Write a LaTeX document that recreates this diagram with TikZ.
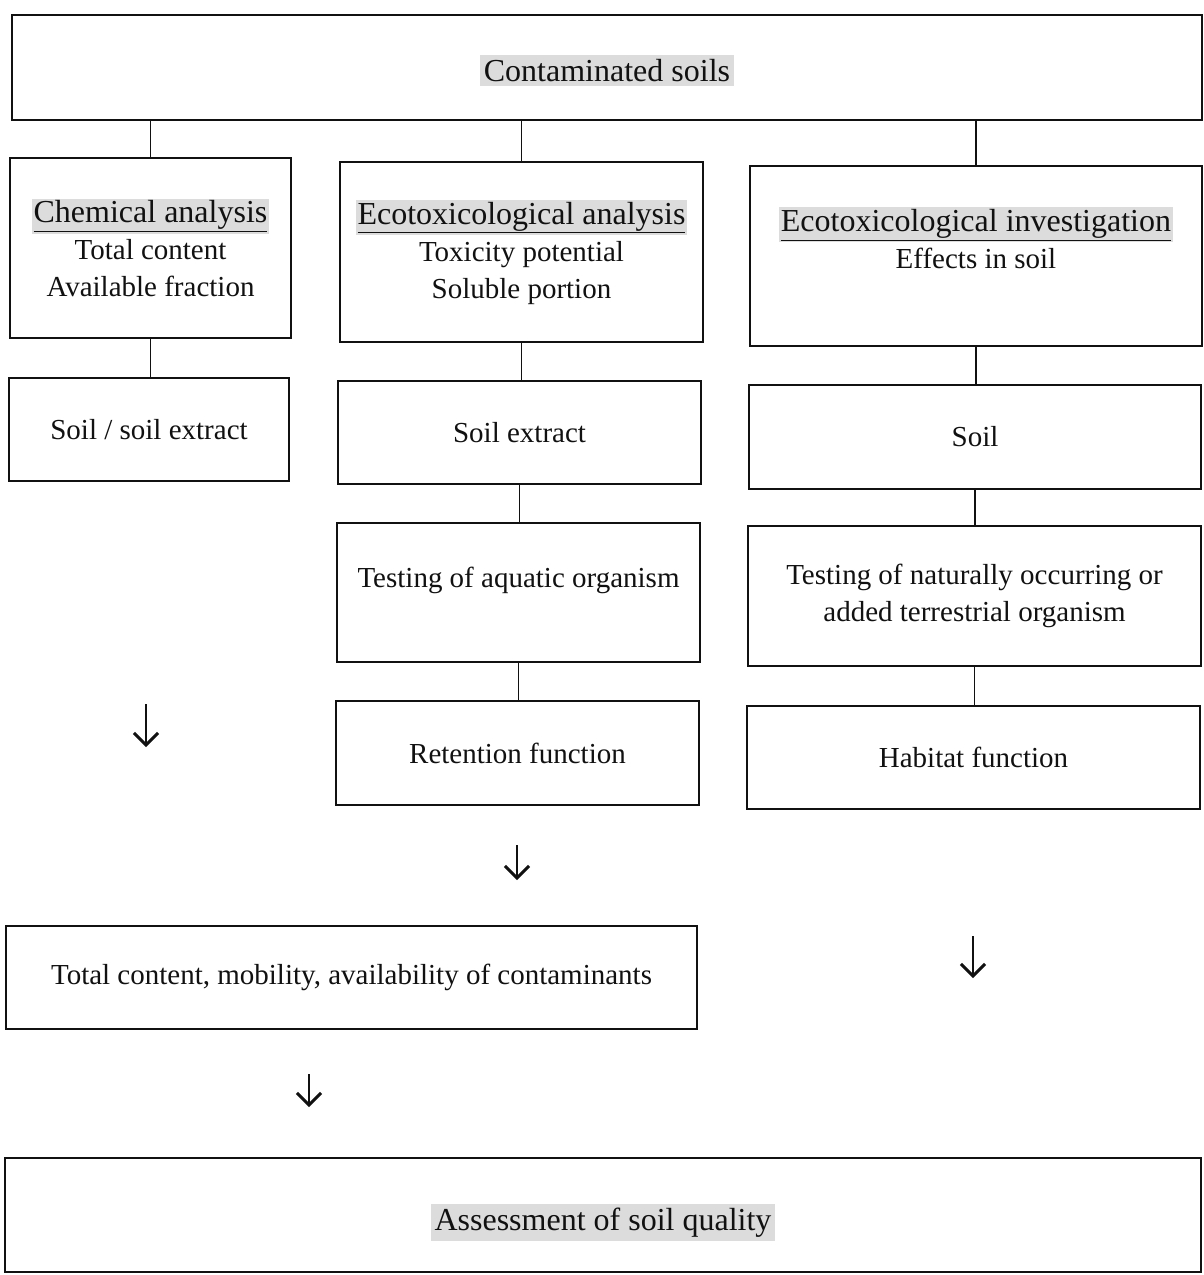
\documentclass[tikz,border=0pt]{standalone}
\usepackage{fontspec}
\setmainfont{Liberation Serif}
\usetikzlibrary{arrows.meta}
\definecolor{Ink}{HTML}{111111}
\definecolor{Shade}{HTML}{DCDCDC}
\newcommand{\shadehead}[1]{{\fontsize{32}{37}\selectfont\setlength{\fboxsep}{2pt}\colorbox{Shade}{\underline{#1}}}}
\newcommand{\shadetitle}[1]{{\fontsize{32}{37}\selectfont\setlength{\fboxsep}{4pt}\colorbox{Shade}{#1}}}

\begin{document}
\begin{tikzpicture}[x=1pt,y=-1pt,font=\fontsize{29}{37}\selectfont,every node/.style={text=Ink},
  box/.style={draw=Ink,line width=1.6pt,inner sep=0pt,align=center},
  link/.style={draw=Ink,line width=1.1pt},
  down/.style={draw=Ink,line width=2pt,-{Straight Barb[length=12pt,width=24pt,line width=3pt]}}]
\useasboundingbox[fill=white] (0,0) rectangle (1203,1275);
% top and first row
\node[box,minimum width=1190pt,minimum height=105pt,text height=32pt] (top) at (607,67.5){\shadetitle{Contaminated soils}};
\node[box,minimum width=281pt,minimum height=180pt] (chem) at (150.5,248){\shadehead{Chemical analysis}\\Total content\\Available fraction};
\node[box,minimum width=363pt,minimum height=180pt] (ecoa) at (521.5,252){\shadehead{Ecotoxicological analysis}\\Toxicity potential\\Soluble portion};
\node[box,minimum width=452pt,minimum height=180pt] (ecoi) at (976,256){\shadehead{Ecotoxicological investigation}\\Effects in soil\\[-12pt]\strut};
% media
\node[box,minimum width=280pt,minimum height=103pt] (soilx) at (149,429.5){Soil / soil extract};
\node[box,minimum width=363pt,minimum height=103pt] (extr) at (519.5,432.5){Soil extract};
\node[box,minimum width=452pt,minimum height=104pt] (soil) at (975,437){Soil};
% tests and functions
\node[box,minimum width=363pt,minimum height=139pt] (aqua) at (518.5,592.5){Testing of aquatic organism\\[-18pt]\strut};
\node[box,minimum width=453pt,minimum height=140pt] (terr) at (974.5,596){Testing of naturally occurring or\\added terrestrial organism};
\node[box,minimum width=363pt,minimum height=104pt] (ret) at (517.5,753){Retention function};
\node[box,minimum width=453pt,minimum height=103pt] (hab) at (973.5,757.5){Habitat function};
% results
\node[box,minimum width=691pt,minimum height=103pt] (cont) at (351.5,977.5){Total content, mobility, availability of contaminants};
\node[box,minimum width=1196pt,minimum height=114pt,text height=42pt] (assess) at (603,1215){\shadetitle{Assessment of soil quality}};
% connectors
\draw[link] (chem.north |- top.south) -- (chem.north);
\draw[link] (ecoa.north |- top.south) -- (ecoa.north);
\draw[link] (ecoi.north |- top.south) -- (ecoi.north);
\draw[link] (chem.south) -- (chem.south |- soilx.north);
\draw[link] (ecoa.south) -- (ecoa.south |- extr.north);
\draw[link] (ecoi.south) -- (ecoi.south |- soil.north);
\draw[link] (extr.south) -- (extr.south |- aqua.north);
\draw[link] (soil.south) -- (soil.south |- terr.north);
\draw[link] (aqua.south) -- (aqua.south |- ret.north);
\draw[link] (terr.south) -- (terr.south |- hab.north);
% free arrows
\coordinate (chemtail) at (146,704);\coordinate (chemhead) at (146,747);
\coordinate (rettail) at (517,845);\coordinate (rethead) at (517,880);
\coordinate (habtail) at (973,936);\coordinate (habhead) at (973,978);
\coordinate (conttail) at (309,1074);\coordinate (conthead) at (309,1107);
\foreach \a/\b in {chemtail/chemhead,rettail/rethead,habtail/habhead,conttail/conthead}{\draw[down] (\a) -- (\b);}
\end{tikzpicture}
\end{document}
